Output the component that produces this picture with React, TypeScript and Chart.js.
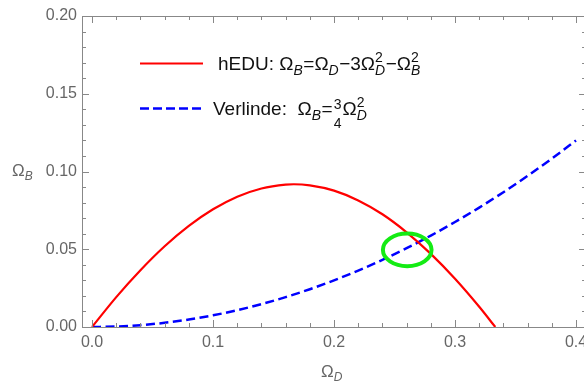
import { useEffect, useRef } from "react";
import { Chart, registerables } from "chart.js";
Chart.register(...registerables);

// ---- data ----
const hEduOmegaD = [0, 0.02, 0.04, 0.06, 0.08, 0.1, 0.12, 0.14, 0.16, 0.1667, 0.18, 0.2, 0.22, 0.24, 0.26, 0.28, 0.3, 0.32, 0.3333];
const hEduOmegaB = [0, 0.0192, 0.0365, 0.0519, 0.065, 0.0757, 0.0838, 0.0891, 0.0916, 0.0918, 0.0911, 0.0877, 0.0814, 0.0725, 0.0609, 0.047, 0.031, 0.013, 0];

const verlindeOmegaD = [0, 0.02, 0.04, 0.06, 0.08, 0.1, 0.12, 0.14, 0.16, 0.18, 0.2, 0.22, 0.24, 0.26, 0.28, 0.3, 0.32, 0.34, 0.36, 0.38, 0.4];
const verlindeOmegaB = [0, 0.0003, 0.0012, 0.0027, 0.0048, 0.0075, 0.0108, 0.0147, 0.0192, 0.0243, 0.03, 0.0363, 0.0432, 0.0507, 0.0588, 0.0675, 0.0768, 0.0867, 0.0972, 0.1083, 0.12];

// highlighted intersection ellipse: centre (ΩD, ΩB) and radii (ΩD, ΩB)
const ellipseCenter = [0.2605, 0.0496];
const ellipseRadii = [0.0201, 0.0105];

const xTickValues = [0, 0.02, 0.04, 0.06, 0.08, 0.1, 0.12, 0.14, 0.16, 0.18, 0.2, 0.22, 0.24, 0.26, 0.28, 0.3, 0.32, 0.34, 0.36, 0.38, 0.4];
const xMajorTicks = [0, 0.1, 0.2, 0.3, 0.4];
const yTickValues = [0, 0.01, 0.02, 0.03, 0.04, 0.05, 0.06, 0.07, 0.08, 0.09, 0.1, 0.11, 0.12, 0.13, 0.14, 0.15, 0.16, 0.17, 0.18, 0.19, 0.2];
const yMajorTicks = [0, 0.05, 0.1, 0.15, 0.2];

const X_MIN = -0.0083;
const X_MAX = 0.4066;
const X_FRAME_MAX = 0.4083;
const Y_MIN = 0;
const Y_MAX = 0.2;

const FONT = "'Liberation Sans', Arial, sans-serif";
const TEXT_GRAY = "#666666";
const FRAME_GRAY = "#888888";

type Tok = { k: "n" | "sub" | "subsup" | "frac"; t: string; u?: string };

const legend1: Tok[] = [
  { k: "n", t: "hEDU: Ω" },
  { k: "sub", t: "B" },
  { k: "n", t: "=Ω" },
  { k: "sub", t: "D" },
  { k: "n", t: "−3Ω" },
  { k: "subsup", t: "D", u: "2" },
  { k: "n", t: "−Ω" },
  { k: "subsup", t: "B", u: "2" },
];
const legend2: Tok[] = [
  { k: "n", t: "Verlinde:  Ω" },
  { k: "sub", t: "B" },
  { k: "n", t: "=" },
  { k: "frac", t: "3", u: "4" },
  { k: "n", t: "Ω" },
  { k: "subsup", t: "D", u: "2" },
];

function isMajor(v: number, majors: number[]) {
  return majors.some((m) => Math.abs(m - v) < 1e-9);
}

function drawRich(ctx: CanvasRenderingContext2D, toks: Tok[], x: number, y: number, fs: number, color: string) {
  ctx.save();
  ctx.fillStyle = color;
  ctx.textAlign = "left";
  ctx.textBaseline = "alphabetic";
  const small = Math.round(fs * 0.72);
  for (const tk of toks) {
    if (tk.k === "n") {
      ctx.font = `${fs}px ${FONT}`;
      ctx.fillText(tk.t, x, y);
      x += ctx.measureText(tk.t).width;
    } else if (tk.k === "sub" || tk.k === "subsup") {
      ctx.font = `italic ${small}px ${FONT}`;
      const w1 = ctx.measureText(tk.t).width;
      ctx.fillText(tk.t, x, y + fs * 0.26);
      let w2 = 0;
      if (tk.u) {
        ctx.font = `${small}px ${FONT}`;
        w2 = ctx.measureText(tk.u).width;
        ctx.fillText(tk.u, x, y - fs * 0.42);
      }
      x += Math.max(w1, w2) + 0.5;
    } else if (tk.k === "frac") {
      ctx.font = `${small}px ${FONT}`;
      const w1 = ctx.measureText(tk.t).width;
      const w2 = ctx.measureText(tk.u || "").width;
      const w = Math.max(w1, w2);
      x += 1;
      ctx.fillText(tk.t, x + (w - w1) / 2, y - fs * 0.32);
      ctx.fillText(tk.u || "", x + (w - w2) / 2, y + fs * 0.66);
      x += w + 1;
    }
  }
  ctx.restore();
}

const framePlugin = {
  id: "mmaFrame",
  afterDatasetsDraw(chart: any) {
    const ctx: CanvasRenderingContext2D = chart.ctx;
    const xs = chart.scales.x;
    const ys = chart.scales.y;
    const ca = chart.chartArea;
    const left = ca.left;
    const right = xs.getPixelForValue(X_FRAME_MAX);
    const top = ca.top;
    const bottom = ca.bottom;

    // ellipse
    const cx = xs.getPixelForValue(ellipseCenter[0]);
    const cy = ys.getPixelForValue(ellipseCenter[1]);
    const rx = Math.abs(xs.getPixelForValue(ellipseCenter[0] + ellipseRadii[0]) - cx);
    const ry = Math.abs(ys.getPixelForValue(ellipseCenter[1] + ellipseRadii[1]) - cy);
    ctx.save();
    ctx.strokeStyle = "rgb(20,235,20)";
    ctx.lineWidth = 4;
    ctx.beginPath();
    ctx.ellipse(cx, cy, rx, ry, 0, 0, Math.PI * 2);
    ctx.stroke();
    ctx.restore();

    // frame
    ctx.save();
    ctx.strokeStyle = FRAME_GRAY;
    ctx.lineWidth = 1;
    ctx.beginPath();
    ctx.rect(left + 0.5, top + 0.5, right - left, bottom - top);
    ctx.stroke();
    // ticks
    ctx.beginPath();
    for (const t of xs.ticks) {
      const px = Math.round(xs.getPixelForValue(t.value)) + 0.5;
      const len = isMajor(t.value, xMajorTicks) ? 7 : 4;
      ctx.moveTo(px, bottom);
      ctx.lineTo(px, bottom - len);
      ctx.moveTo(px, top);
      ctx.lineTo(px, top + len);
    }
    for (const t of ys.ticks) {
      const py = Math.round(ys.getPixelForValue(t.value)) + 0.5;
      const len = isMajor(t.value, yMajorTicks) ? 7 : 4;
      ctx.moveTo(left, py);
      ctx.lineTo(left + len, py);
      ctx.moveTo(right, py);
      ctx.lineTo(right - len, py);
    }
    ctx.stroke();
    ctx.restore();

    // axis titles
    drawRich(ctx, [{ k: "n", t: "Ω" }, { k: "sub", t: "B" }], 12, 176, 17, TEXT_GRAY);
    drawRich(ctx, [{ k: "n", t: "Ω" }, { k: "sub", t: "D" }], xs.getPixelForValue(0.2) - 13, 377, 17, TEXT_GRAY);

    // legend
    ctx.save();
    ctx.lineWidth = 2.2;
    ctx.strokeStyle = "#ff0000";
    ctx.beginPath();
    ctx.moveTo(140, 63.5);
    ctx.lineTo(203, 63.5);
    ctx.stroke();
    ctx.strokeStyle = "#0000ff";
    ctx.lineWidth = 2.4;
    ctx.setLineDash([9, 4]);
    ctx.beginPath();
    ctx.moveTo(140, 108.5);
    ctx.lineTo(203, 108.5);
    ctx.stroke();
    ctx.restore();
    drawRich(ctx, legend1, 218, 70, 19, "#111111");
    drawRich(ctx, legend2, 213, 115, 19, "#111111");
  },
};

export default function App() {
  const ref = useRef<HTMLCanvasElement | null>(null);
  useEffect(() => {
    document.body.style.margin = "0";
    const canvas = ref.current;
    if (!canvas) return;
    const chart = new Chart(canvas, {
      type: "scatter",
      data: {
        datasets: [
          {
            label: "hEDU",
            data: hEduOmegaD.map((x, i) => ({ x, y: hEduOmegaB[i] })),
            showLine: true,
            borderColor: "#ff0000",
            borderWidth: 2.2,
            pointRadius: 0,
            cubicInterpolationMode: "monotone",
            fill: false,
          },
          {
            label: "Verlinde",
            data: verlindeOmegaD.map((x, i) => ({ x, y: verlindeOmegaB[i] })),
            showLine: true,
            borderColor: "#0000ff",
            borderWidth: 2.5,
            borderDash: [9, 4.5],
            pointRadius: 0,
            cubicInterpolationMode: "monotone",
            fill: false,
          },
        ],
      },
      options: {
        animation: false,
        responsive: false,
        devicePixelRatio: 1,
        layout: { padding: { left: 0, right: 0, top: 16, bottom: 0 } },
        plugins: { legend: { display: false }, tooltip: { enabled: false } },
        scales: {
          x: {
            type: "linear",
            min: X_MIN,
            max: X_MAX,
            grid: { display: false, drawTicks: false },
            border: { display: false },
            afterBuildTicks: (s: any) => {
              s.ticks = xTickValues.map((v) => ({ value: v }));
            },
            afterFit: (s: any) => {
              s.height = 58;
              s.paddingLeft = 0;
              s.paddingRight = 0;
            },
            ticks: {
              autoSkip: false,
              maxRotation: 0,
              padding: 6,
              color: TEXT_GRAY,
              font: { family: FONT, size: 16 },
              callback: (v: any) => (isMajor(Number(v), xMajorTicks) ? Number(v).toFixed(1) : ""),
            },
          },
          y: {
            type: "linear",
            min: Y_MIN,
            max: Y_MAX,
            grid: { display: false, drawTicks: false },
            border: { display: false },
            afterBuildTicks: (s: any) => {
              s.ticks = yTickValues.map((v) => ({ value: v }));
            },
            afterFit: (s: any) => {
              s.width = 82;
              s.paddingTop = 0;
              s.paddingBottom = 0;
            },
            ticks: {
              autoSkip: false,
              padding: 5,
              color: TEXT_GRAY,
              font: { family: FONT, size: 16 },
              callback: (v: any) => (isMajor(Number(v), yMajorTicks) ? Number(v).toFixed(2) : ""),
            },
          },
        },
      },
      plugins: [framePlugin],
    } as any);
    return () => chart.destroy();
  }, []);
  return (
    <div style={{ width: 584, height: 385, background: "#fff" }}>
      <canvas ref={ref} width={584} height={385} style={{ display: "block" }} />
    </div>
  );
}
